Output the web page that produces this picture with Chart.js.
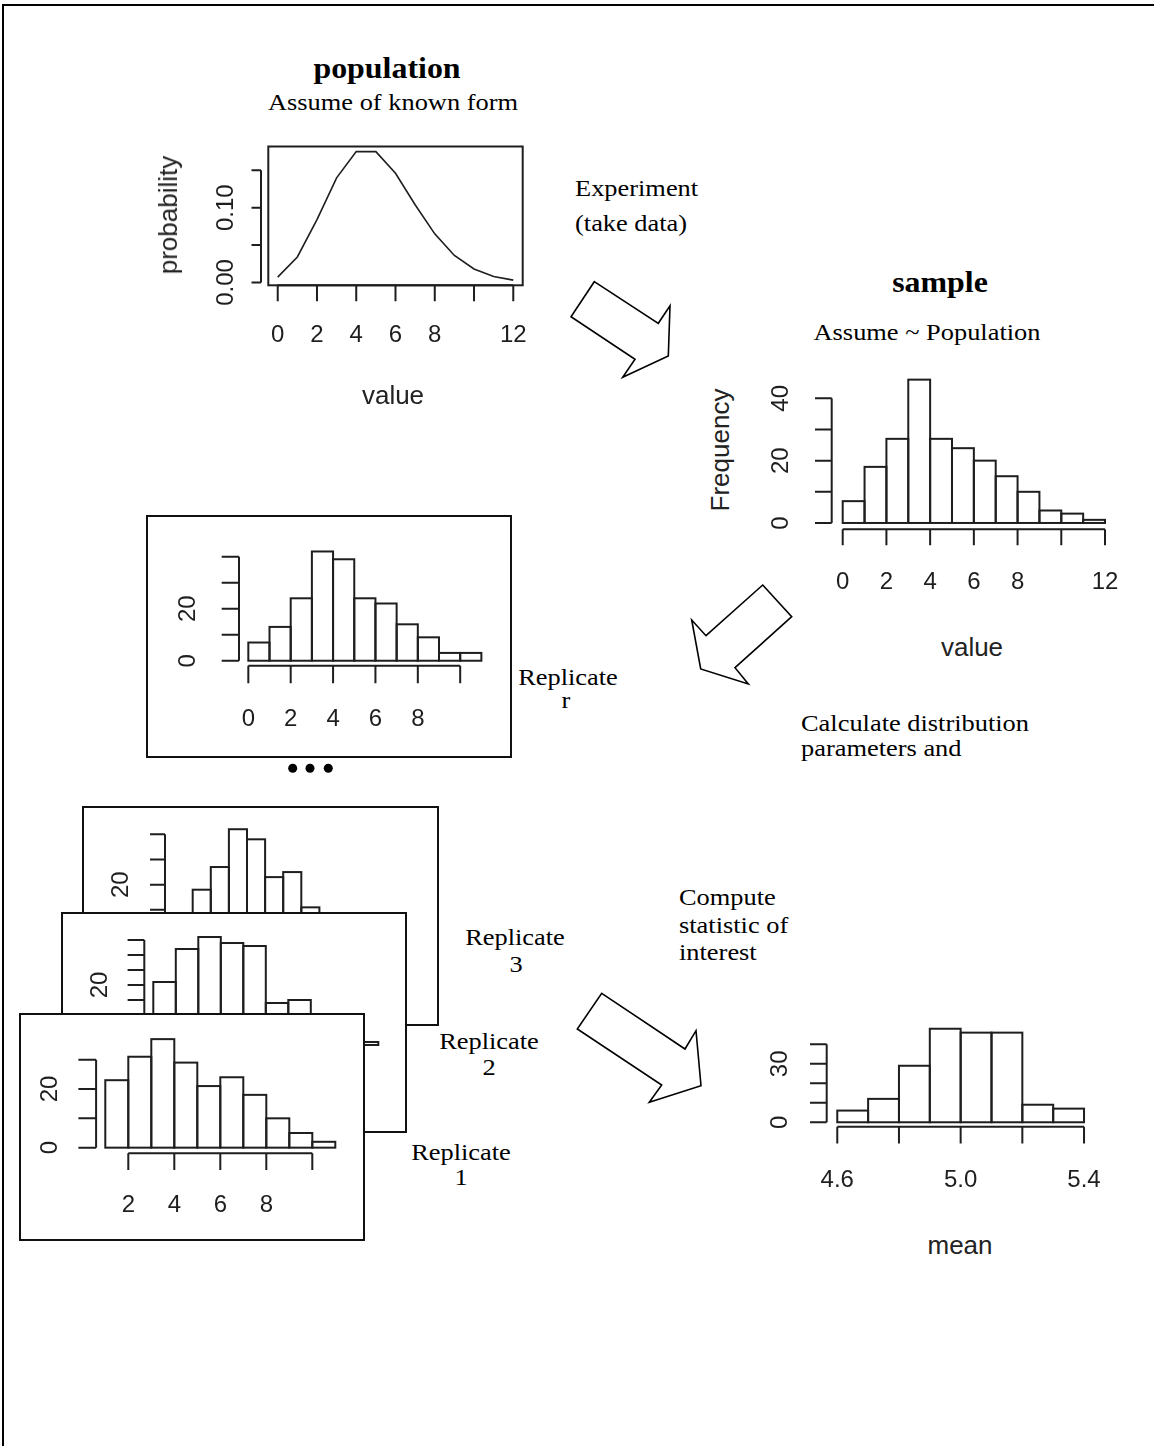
<!DOCTYPE html>
<html lang="en">
<head>
<meta charset="UTF-8">
<title>Population, sample and replicate histograms</title>
<script src="https://cdn.jsdelivr.net/npm/chart.js"></script>
<style>
  body { margin: 0; background: #fff; }
  #page { position: relative; width: 1154px; height: 1446px; overflow: hidden; background: #fff; }
  .frame { position: absolute; left: 2px; top: 4px; width: 1200px; height: 1500px; border-top: 2px solid #000; border-left: 2px solid #000; }
  .box { position: absolute; border: 2px solid #111; background: #fff; }
  canvas { position: absolute; }
  .box canvas { left: 0; top: 0; }
  .t { position: absolute; font-family: "Liberation Serif", "Times New Roman", serif; font-size: 24px; line-height: 1; white-space: nowrap; color: #000; }
  .c { transform: translate(-50%, -50%) scaleX(1.1); }
  .l { transform: translateY(-50%) scaleX(1.1); transform-origin: 0 50%; }
  .b { font-weight: bold; font-size: 29px; }
  .s { position: absolute; font-family: "Liberation Sans", Arial, sans-serif; font-size: 26px; line-height: 1; color: #222; white-space: nowrap; transform: translate(-50%, -50%); }
  .s.v { transform: translate(-50%, -50%) rotate(-90deg); }
  svg { position: absolute; left: 0; top: 0; }
</style>
</head>
<body>
<div id="page">
  <div class="frame"></div>

  <div class="t b c" style="left:387px; top:68px;">population</div>
  <div class="t c" style="left:393px; top:102px;">Assume of known form</div>
  <canvas id="popChart" width="395" height="300" style="left:150px; top:120px;"></canvas>
  <div class="s v" style="left:168px; top:215px;">probability</div>
  <div class="s" style="left:393px; top:395px;">value</div>

  <div class="t l" style="left:575px; top:188px;">Experiment</div>
  <div class="t l" style="left:575px; top:223px;">(take data)</div>

  <div class="t b c" style="left:940px; top:282px;">sample</div>
  <div class="t c" style="left:927px; top:332px;">Assume ~ Population</div>
  <canvas id="sampleChart" width="400" height="250" style="left:740px; top:360px;"></canvas>
  <div class="s v" style="left:720px; top:450px;">Frequency</div>
  <div class="s" style="left:972px; top:647px;">value</div>

  <div class="box" style="left:146px; top:515px; width:362px; height:239px;"><canvas id="repRChart" width="362" height="239"></canvas></div>
  <div class="t c" style="left:568px; top:677px;">Replicate</div>
  <div class="t c" style="left:566px; top:700px;">r</div>

  <div class="t l" style="left:801px; top:723px;">Calculate distribution</div>
  <div class="t l" style="left:801px; top:748px;">parameters and</div>

  <div class="box" style="left:82px; top:806px; width:353px; height:216px;"><canvas id="rep3Chart" width="353" height="216"></canvas></div>
  <div class="box" style="left:61px; top:912px; width:342px; height:217px;"><canvas id="rep2Chart" width="342" height="217"></canvas></div>
  <div class="box" style="left:19px; top:1013px; width:342px; height:224px;"><canvas id="rep1Chart" width="342" height="224"></canvas></div>

  <div class="t c" style="left:515px; top:937px;">Replicate</div>
  <div class="t c" style="left:516px; top:964px;">3</div>
  <div class="t c" style="left:489px; top:1041px;">Replicate</div>
  <div class="t c" style="left:489px; top:1067px;">2</div>
  <div class="t c" style="left:461px; top:1152px;">Replicate</div>
  <div class="t c" style="left:461px; top:1177px;">1</div>

  <div class="t l" style="left:679px; top:897px;">Compute</div>
  <div class="t l" style="left:679px; top:925px;">statistic of</div>
  <div class="t l" style="left:679px; top:952px;">interest</div>

  <canvas id="meanChart" width="350" height="200" style="left:760px; top:1010px;"></canvas>
  <div class="s" style="left:960px; top:1245px;">mean</div>

  <svg width="1154" height="1446">
    <g fill="#fff" stroke="#000" stroke-width="1.6" stroke-linejoin="miter">
      <polygon points="594.3,281.7 658.3,323.3 670,305.7 668.3,356 622.7,377.3 635,359.3 571,316.7"/>
      <polygon points="762.7,585 791.7,616.7 735,667.7 748.3,684 700.7,669 691.7,620 706,635.7"/>
      <polygon points="601.7,993.3 685,1049 696,1030.7 701,1085.7 649.3,1102.3 661.7,1085 577.3,1029"/>
    </g>
    <g fill="#000">
      <circle cx="292.7" cy="768.3" r="4.5"/>
      <circle cx="310" cy="768.3" r="4.5"/>
      <circle cx="328.3" cy="768.3" r="4.5"/>
    </g>
  </svg>
</div>

<script>
// population: probability of each value
const popValues = [0, 1, 2, 3, 4, 5, 6, 7, 8, 9, 10, 11, 12];
const popProb = [0.007, 0.034, 0.084, 0.140, 0.175, 0.175, 0.146, 0.104, 0.065, 0.036, 0.018, 0.008, 0.003];
const popXTicks = [0, 2, 4, 6, 8, 10, 12];
const popXLabels = ['0', '2', '4', '6', '8', '', '12'];
const popYTicks = [0, 0.05, 0.10, 0.15];
const popYLabels = ['0.00', '', '0.10', ''];

// sample of the population
const sampleBreaks = [0, 1, 2, 3, 4, 5, 6, 7, 8, 9, 10, 11, 12];
const sampleCounts = [7, 18, 27, 46, 27, 24, 20, 15, 10, 4, 3, 1];
const sampleXTicks = [0, 2, 4, 6, 8, 10, 12];
const sampleXLabels = ['0', '2', '4', '6', '8', '', '12'];
const sampleYTicks = [0, 10, 20, 30, 40];
const sampleYLabels = ['0', '', '20', '', '40'];

// replicate r
const repRBreaks = [0, 1, 2, 3, 4, 5, 6, 7, 8, 9, 10, 11];
const repRCounts = [7, 13, 24, 42, 39, 24, 22, 14, 9, 3, 3];
const repRXTicks = [0, 2, 4, 6, 8, 10];
const repRXLabels = ['0', '2', '4', '6', '8', ''];
const repRYTicks = [0, 10, 20, 30, 40];
const repRYLabels = ['0', '', '20', '', ''];

// replicate 3
const rep3Breaks = [0, 1, 2, 3, 4, 5, 6, 7, 8, 9, 10, 11, 12];
const rep3Counts = [5, 18, 27, 42, 38, 23, 25, 11, 6, 3, 1, 1];
const rep3XTicks = [0, 2, 4, 6, 8, 10, 12];
const rep3XLabels = ['0', '2', '4', '6', '8', '', '12'];
const rep3YTicks = [0, 10, 20, 30, 40];
const rep3YLabels = ['0', '', '20', '', ''];

// replicate 2
const rep2Breaks = [1, 2, 3, 4, 5, 6, 7, 8, 9, 10, 11];
const rep2Counts = [21, 32, 36, 34, 33, 14, 15, 9, 5, 1];
const rep2XTicks = [2, 4, 6, 8, 10];
const rep2XLabels = ['2', '4', '6', '8', ''];
const rep2YTicks = [0, 5, 10, 15, 20, 25, 30, 35];
const rep2YLabels = ['0', '', '', '', '20', '', '', ''];

// replicate 1
const rep1Breaks = [1, 2, 3, 4, 5, 6, 7, 8, 9, 10, 11];
const rep1Counts = [23, 31, 37, 29, 21, 24, 18, 10, 5, 2];
const rep1XTicks = [2, 4, 6, 8, 10];
const rep1XLabels = ['2', '4', '6', '8', ''];
const rep1YTicks = [0, 10, 20, 30];
const rep1YLabels = ['0', '', '20', ''];

// means of the replicates
const meanBreaks = [4.6, 4.7, 4.8, 4.9, 5.0, 5.1, 5.2, 5.3, 5.4];
const meanCounts = [6, 12, 29, 48, 46, 46, 9, 7];
const meanXTicks = [4.6, 4.8, 5.0, 5.2, 5.4];
const meanXLabels = ['4.6', '', '5.0', '', '5.4'];
const meanYTicks = [0, 10, 20, 30, 40];
const meanYLabels = ['0', '', '', '30', ''];

const ink = '#1e1e1e';

// R pads the data range by 4% on each side
function rRange(lo, hi) {
  const d = (hi - lo) * 0.04;
  return [lo - d, hi + d];
}

// base-graphics style axes: line only between end ticks, ticks outside, rotated y labels
function rAxes(o) {
  return {
    id: 'rAxes',
    afterDatasetsDraw(chart) {
      const { ctx, chartArea: a, scales: { x, y } } = chart;
      ctx.save();
      ctx.strokeStyle = ink;
      ctx.lineWidth = 2;
      if (o.bars) {
        chart.getDatasetMeta(0).data.forEach(bar => {
          const p = bar.getProps(['x', 'y', 'base', 'width'], true);
          ctx.strokeRect(p.x - p.width / 2, p.y, p.width, p.base - p.y);
        });
      }
      if (o.box) ctx.strokeRect(a.left, a.top, a.right - a.left, a.bottom - a.top);

      ctx.font = '24px "Liberation Sans", Arial, sans-serif';
      ctx.fillStyle = ink;
      ctx.textAlign = 'center';
      ctx.textBaseline = 'middle';

      const ay = a.bottom + o.xGap;
      ctx.beginPath();
      ctx.moveTo(x.getPixelForValue(o.xTicks[0]), ay);
      ctx.lineTo(x.getPixelForValue(o.xTicks[o.xTicks.length - 1]), ay);
      o.xTicks.forEach(v => {
        const px = x.getPixelForValue(v);
        ctx.moveTo(px, ay);
        ctx.lineTo(px, ay + o.xTick);
      });
      ctx.stroke();
      o.xTicks.forEach((v, i) => {
        if (o.xLabels[i]) ctx.fillText(o.xLabels[i], x.getPixelForValue(v), ay + o.xLab);
      });

      const ax = a.left - o.yGap;
      ctx.beginPath();
      ctx.moveTo(ax, y.getPixelForValue(o.yTicks[0]));
      ctx.lineTo(ax, y.getPixelForValue(o.yTicks[o.yTicks.length - 1]));
      o.yTicks.forEach(v => {
        const py = y.getPixelForValue(v);
        ctx.moveTo(ax - o.yTick, py);
        ctx.lineTo(ax, py);
      });
      ctx.stroke();
      o.yTicks.forEach((v, i) => {
        if (!o.yLabels[i]) return;
        ctx.save();
        ctx.translate(ax - o.yLab, y.getPixelForValue(v));
        ctx.rotate(-Math.PI / 2);
        ctx.fillText(o.yLabels[i], 0, 0);
        ctx.restore();
      });
      ctx.restore();
    }
  };
}

function rChart(id, type, datasets, xr, yr, pad, axes) {
  return new Chart(document.getElementById(id), {
    type,
    data: { datasets },
    options: {
      responsive: false,
      animation: false,
      devicePixelRatio: 1,
      events: [],
      layout: { padding: pad },
      scales: {
        x: { type: 'linear', display: false, offset: false, min: xr[0], max: xr[1], ticks: { includeBounds: false } },
        y: { type: 'linear', display: false, min: yr[0], max: yr[1] }
      },
      plugins: { legend: { display: false }, tooltip: { enabled: false } }
    },
    plugins: [rAxes(axes)]
  });
}

function histSet(breaks, counts) {
  return [{
    data: counts.map((c, i) => ({ x: (breaks[i] + breaks[i + 1]) / 2, y: c })),
    backgroundColor: '#fff',
    borderWidth: 0,
    barPercentage: 1,
    categoryPercentage: 1,
    barThickness: 'flex'
  }];
}

function hist(id, breaks, counts, pad, axes) {
  const xr = rRange(breaks[0], breaks[breaks.length - 1]);
  const yr = rRange(0, Math.max(...counts));
  return rChart(id, 'bar', histSet(breaks, counts), xr, yr, pad, Object.assign({ bars: true }, axes));
}

// population curve
rChart('popChart', 'line', [{
  data: popValues.map((v, i) => ({ x: v, y: popProb[i] })),
  borderColor: ink,
  borderWidth: 1.6,
  pointRadius: 0,
  fill: false,
  tension: 0
}], rRange(popValues[0], popValues[popValues.length - 1]), rRange(Math.min(...popProb), Math.max(...popProb)),
  { left: 118.3, top: 26.5, right: 22.3, bottom: 134.7 },
  { box: true, xTicks: popXTicks, xLabels: popXLabels, xGap: 0, xTick: 16, xLab: 49.7,
    yTicks: popYTicks, yLabels: popYLabels, yGap: 7.3, yTick: 9.5, yLab: 34.3 });

hist('sampleChart', sampleBreaks, sampleCounts,
  { left: 92.2, top: 13.9, right: 24.5, bottom: 81.3 },
  { xTicks: sampleXTicks, xLabels: sampleXLabels, xGap: 0.6, xTick: 16, xLab: 53.4,
    yTicks: sampleYTicks, yLabels: sampleYLabels, yGap: 0.5, yTick: 16.7, yLab: 50 });

hist('repRChart', repRBreaks, repRCounts,
  { left: 91, top: 30.1, right: 19.3, bottom: 90.9 },
  { xTicks: repRXTicks, xLabels: repRXLabels, xGap: 0.6, xTick: 17.6, xLab: 54,
    yTicks: repRYTicks, yLabels: repRYLabels, yGap: 0, yTick: 17.3, yLab: 50.7 });

hist('rep3Chart', rep3Breaks, rep3Counts,
  { left: 81.9, top: 17, right: 36.5, bottom: 84.7 },
  { xTicks: rep3XTicks, xLabels: rep3XLabels, xGap: 0.6, xTick: 16, xLab: 52,
    yTicks: rep3YTicks, yLabels: rep3YLabels, yGap: 0.9, yTick: 15, yLab: 43.3 });

hist('rep2Chart', rep2Breaks, rep2Counts,
  { left: 81.3, top: 18.7, right: 17.7, bottom: 81.7 },
  { xTicks: rep2XTicks, xLabels: rep2XLabels, xGap: 0.6, xTick: 16, xLab: 52,
    yTicks: rep2YTicks, yLabels: rep2YLabels, yGap: 0, yTick: 16.7, yLab: 44.3 });

hist('rep1Chart', rep1Breaks, rep1Counts,
  { left: 75.1, top: 19.8, right: 18.5, bottom: 87 },
  { xTicks: rep1XTicks, xLabels: rep1XLabels, xGap: 1.3, xTick: 16.7, xLab: 51.7,
    yTicks: rep1YTicks, yLabels: rep1YLabels, yGap: 0, yTick: 17.7, yLab: 46 });

hist('meanChart', meanBreaks, meanCounts,
  { left: 67.4, top: 15, right: 16.1, bottom: 84 },
  { xTicks: meanXTicks, xLabels: meanXLabels, xGap: 0.7, xTick: 16.7, xLab: 53.3,
    yTicks: meanYTicks, yLabels: meanYLabels, yGap: 0.7, yTick: 16.7, yLab: 46.7 });
</script>
</body>
</html>
